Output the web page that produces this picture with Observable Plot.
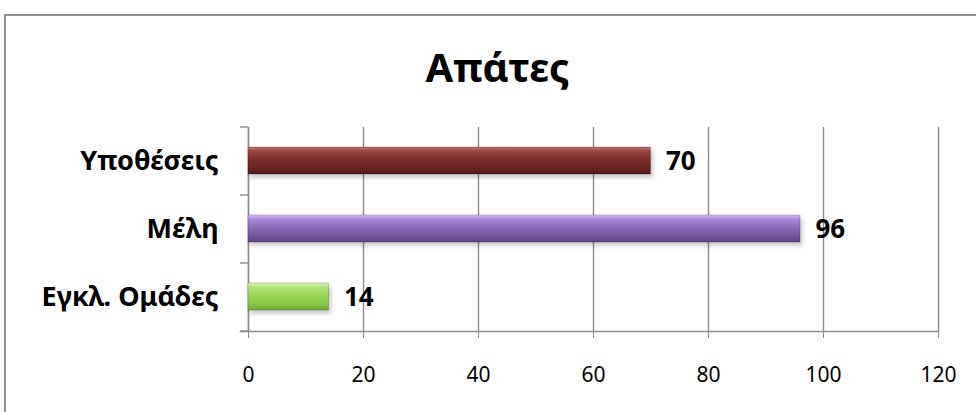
<!DOCTYPE html>
<html>
<head>
<meta charset="utf-8">
<script src="https://cdn.jsdelivr.net/npm/d3@7"></script>
<script src="https://cdn.jsdelivr.net/npm/@observablehq/plot@0.6"></script>
<style>
  html, body { margin: 0; padding: 0; background: #fff; }
  #wrap { position: relative; width: 976px; height: 412px; overflow: hidden; }
  #border { position: absolute; left: 4px; top: 14px; width: 1100px; height: 600px; border: 2px solid #8e8e8e; box-sizing: border-box; }
  #chart { position: absolute; left: 0; top: 0; }
</style>
</head>
<body>
<div id="wrap"><div id="border"></div><div id="chart"></div></div>
<script>
const title = "Απάτες";
const categories = ["Υποθέσεις", "Μέλη", "Εγκλ. Ομάδες"];
const values = [70, 96, 14];
const gradientIds = ["gBrown", "gPurple", "gGreen"];
const xTicks = [0, 20, 40, 60, 80, 100, 120];

const data = categories.map((c, i) => ({cat: c, value: values[i], grad: gradientIds[i]}));

const chart = Plot.plot({
  width: 976,
  height: 412,
  marginLeft: 248,
  marginRight: 38,
  marginTop: 127,
  marginBottom: 81,
  style: {fontFamily: "'Noto Sans', sans-serif", background: "transparent", overflow: "visible", color: "#000"},
  x: {domain: [0, 120], ticks: xTicks, label: null},
  y: {domain: categories, padding: 0, label: null},
  color: {type: "identity"},
  marks: [
    Plot.gridX(xTicks, {stroke: "#8c8c8c", strokeOpacity: 1, strokeWidth: 1.4}),
    Plot.frame({anchor: "bottom", stroke: "#8c8c8c", strokeWidth: 1.6, insetLeft: -8}),
    Plot.frame({anchor: "left", stroke: "#8c8c8c", strokeWidth: 1.4}),
    Plot.axisX({ticks: xTicks, tickSize: 7, tickPadding: 29, fontSize: 21, stroke: "#8c8c8c", fill: "#000", label: null}),
    Plot.axisY({tickSize: 0, tickPadding: 30, fontSize: 27, fontWeight: "bold", fill: "#000", label: null}),
    Plot.barX(data, {y: "cat", x: "value", fill: d => `url(#${d.grad})`, insetTop: 20, insetBottom: 21, stroke: "rgba(0,0,0,0.25)", strokeWidth: 0.8}),
    Plot.text(data, {y: "cat", x: "value", text: d => String(d.value), textAnchor: "start", dx: 15, fontSize: 26, fontWeight: "bold", fill: "#000"}),
    Plot.text([title], {frameAnchor: "top", lineAnchor: "middle", dx: -96, dy: -58, fontSize: 40, fontWeight: "bold", fill: "#000"})
  ]
});

document.getElementById("chart").appendChild(chart);

const svg = d3.select(chart);
const defs = svg.insert("defs", ":first-child");
const grads = {
  gBrown: ["#c27470", "#9a4643", "#7a2d2b", "#6a2523", "#4f1a19"],
  gPurple: ["#dcbcff", "#a98ad6", "#8b6cb8", "#75599e", "#584282"],
  gGreen: ["#dcf8b0", "#b2e57a", "#98d655", "#8ac948", "#6eac32"]
};
for (const [id, stops] of Object.entries(grads)) {
  const g = defs.append("linearGradient").attr("id", id).attr("x1", 0).attr("x2", 0).attr("y1", 0).attr("y2", 1);
  const offs = [0, 0.15, 0.45, 0.75, 1];
  stops.forEach((s, i) => g.append("stop").attr("offset", offs[i]).attr("stop-color", s));
}
const f = defs.append("filter").attr("id", "shadow").attr("x", "-10%").attr("y", "-30%").attr("width", "130%").attr("height", "180%");
f.append("feDropShadow").attr("dx", 2).attr("dy", 3).attr("stdDeviation", 2.5).attr("flood-color", "#000").attr("flood-opacity", 0.25);
svg.selectAll("rect").filter(function() { return (this.getAttribute("fill") || "").startsWith("url"); }).attr("filter", "url(#shadow)");

// left axis tick marks at band boundaries
const ys = chart.scale("y");
const xs = chart.scale("x");
const x0 = xs.apply(0);
const bounds = categories.map(c => ys.apply(c)).concat([ys.range[1]]);
svg.append("g").selectAll("line").data(bounds).join("line")
  .attr("x1", x0 - 8).attr("x2", x0)
  .attr("y1", d => d).attr("y2", d => d)
  .attr("stroke", "#8c8c8c").attr("stroke-width", 1.4);
</script>
</body>
</html>
